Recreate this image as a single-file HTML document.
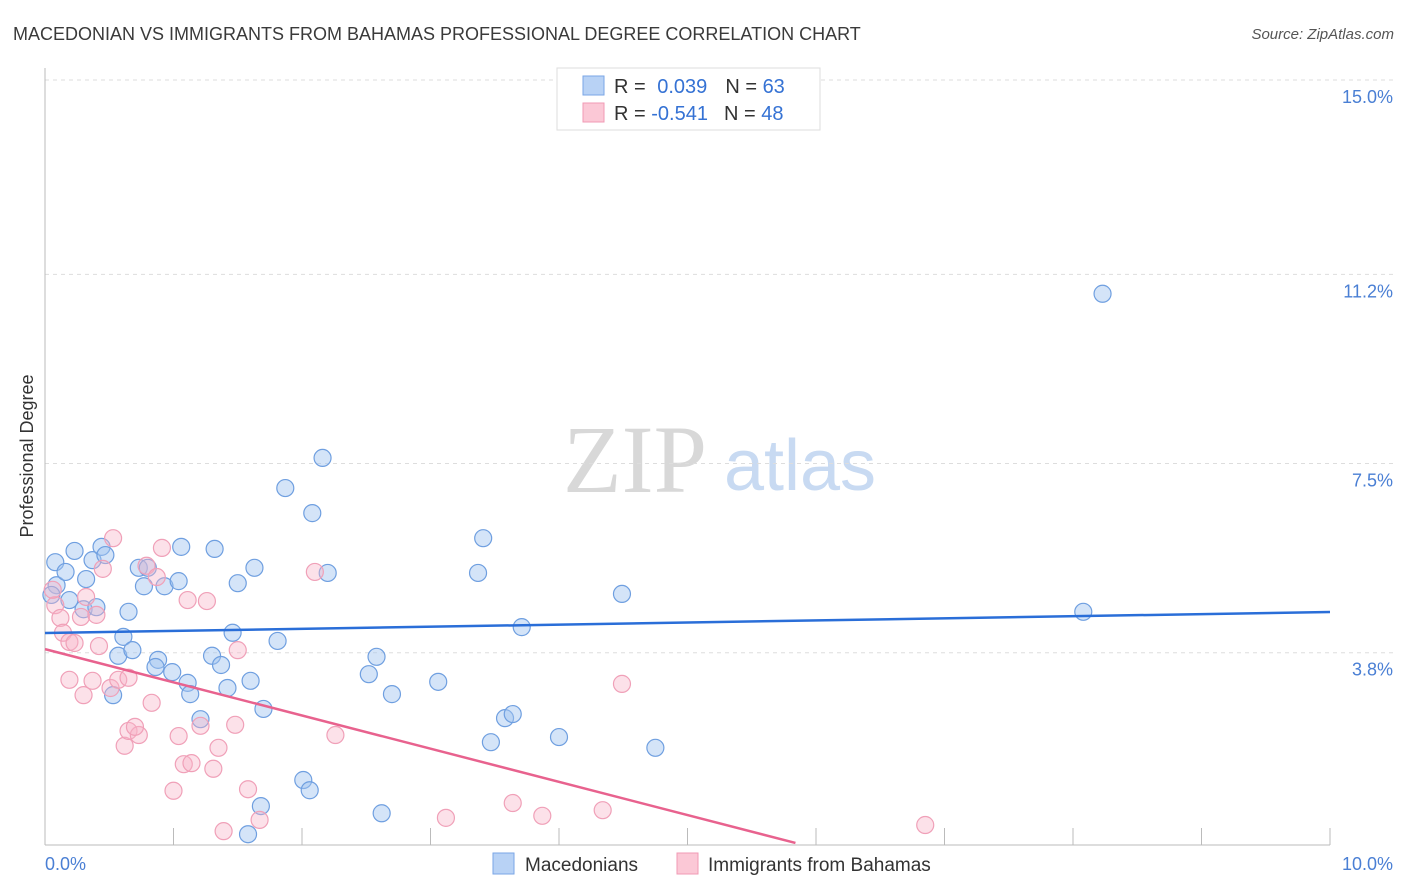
<!DOCTYPE html>
<html><head><meta charset="utf-8"><style>
body{margin:0;background:#fff;font-family:"Liberation Sans",sans-serif;}
svg{display:block}
</style></head><body>
<svg width="1406" height="892" id="chart">
<text x="13" y="40" font-size="18" fill="#3a3a3a">MACEDONIAN VS IMMIGRANTS FROM BAHAMAS PROFESSIONAL DEGREE CORRELATION CHART</text>
<text x="1394" y="39" font-size="15" fill="#555" font-style="italic" text-anchor="end">Source: ZipAtlas.com</text>
<text x="635" y="492" font-size="96" fill="#d8d8d8" font-family="Liberation Serif,serif" text-anchor="middle">ZIP</text>
<text x="800" y="490" font-size="72" fill="#c8daf2" text-anchor="middle">atlas</text>
<g id="grid"></g>
<line x1="45" y1="68" x2="45" y2="845" stroke="#bbb"/>
<line x1="45" y1="845" x2="1330" y2="845" stroke="#bbb"/>
<text transform="translate(33,456) rotate(-90)" font-size="18" fill="#333" text-anchor="middle">Professional Degree</text>
<text x="45" y="870" font-size="18" fill="#4a7fd4">0.0%</text>
<text x="1393" y="870" font-size="18" fill="#4a7fd4" text-anchor="end">10.0%</text>
<g id="pts"></g>
<g id="lines"></g>
<g>
<rect x="557" y="68" width="263" height="62" fill="#fff" stroke="#ddd"/>
<rect x="583" y="76" width="21" height="19" fill="#b8d2f5" stroke="#7aa6e6"/>
<rect x="583" y="103" width="21" height="19" fill="#fbc8d6" stroke="#f09ab4"/>
<text x="614" y="93" font-size="20" fill="#333">R = <tspan fill="#3572d4" dx="6">0.039</tspan><tspan dx="18" fill="#333">N = </tspan><tspan fill="#3572d4">63</tspan></text>
<text x="614" y="120" font-size="20" fill="#333">R = <tspan fill="#3572d4">-0.541</tspan><tspan dx="16" fill="#333">N = </tspan><tspan fill="#3572d4">48</tspan></text>
</g>
<g>
<rect x="493" y="853" width="21" height="21" fill="#b8d2f5" stroke="#7aa6e6"/>
<text x="525" y="871" font-size="19" fill="#333">Macedonians</text>
<rect x="677" y="853" width="21" height="21" fill="#fbc8d6" stroke="#f09ab4"/>
<text x="708" y="871" font-size="19" fill="#333">Immigrants from Bahamas</text>
</g>
</svg>
<script>
const yTicks=[3.8,7.5,11.2,15.0];
const yTickLabels=["3.8%","7.5%","11.2%","15.0%"];
const xTicks=[0,1,2,3,4,5,6,7,8,9,10];
const blueX=[0.08,0.09,0.16,0.23,0.32,0.37,0.19,0.30,0.40,0.44,0.47,0.65,0.73,0.80,0.77,0.93,1.04,1.06,1.32,1.50,1.63,0.61,0.57,0.68,0.53,0.88,0.86,0.99,1.11,1.13,1.30,1.37,1.42,1.46,1.60,1.70,1.81,1.21,1.87,2.08,2.16,2.20,2.52,2.58,2.70,3.06,3.37,3.41,3.58,3.64,3.47,3.71,4.00,4.49,4.75,8.08,8.23,2.01,2.06,1.68,2.62,1.58,0.05];
const blueY=[5.57,5.12,5.38,5.79,5.24,5.61,4.83,4.65,4.69,5.87,5.71,4.60,5.46,5.46,5.10,5.10,5.20,5.87,5.83,5.16,5.46,4.11,3.74,3.85,2.97,3.66,3.52,3.42,3.21,2.99,3.74,3.56,3.11,4.19,3.25,2.70,4.03,2.50,7.02,6.53,7.61,5.36,3.38,3.72,2.99,3.23,5.36,6.04,2.52,2.60,2.05,4.30,2.15,4.95,1.94,4.60,10.82,1.31,1.11,0.80,0.66,0.25,4.93];
const pinkX=[0.08,0.06,0.12,0.14,0.19,0.23,0.28,0.32,0.40,0.42,0.53,0.45,0.19,0.30,0.37,0.51,0.57,0.65,0.62,0.65,0.73,0.83,0.70,0.79,0.87,0.91,1.11,1.26,1.21,1.04,1.08,1.14,1.35,1.31,1.00,1.48,1.50,1.58,1.67,1.39,2.10,2.26,3.12,3.64,3.87,4.34,4.49,6.85];
const pinkY=[4.73,5.03,4.48,4.19,4.01,3.99,4.50,4.89,4.54,3.93,6.04,5.44,3.27,2.97,3.25,3.11,3.27,3.31,1.98,2.27,2.19,2.82,2.35,5.50,5.28,5.85,4.83,4.81,2.37,2.17,1.62,1.64,1.94,1.53,1.10,2.39,3.85,1.13,0.53,0.31,5.38,2.19,0.57,0.86,0.61,0.72,3.19,0.43];
const blueTrend=[[0,4.185],[10,4.596]];
const pinkTrend=[[0,3.87],[5.84,0.08]];
const NS='http://www.w3.org/2000/svg';
const sx=v=>45+v*128.5, sy=v=>847-v*51.13;
function mk(tag,attrs,parent){const e=document.createElementNS(NS,tag);for(const k in attrs)e.setAttribute(k,attrs[k]);parent.appendChild(e);return e;}
const grid=document.getElementById('grid');
yTicks.forEach((t,i)=>{
  const l=mk('line',{x1:45,x2:1395,y1:sy(t),y2:sy(t),stroke:'#ddd','stroke-dasharray':'4,4'},grid);
  
  
  const tx=mk('text',{x:1393,y:sy(t)+23,'font-size':18,fill:'#4a7fd4','text-anchor':'end'},grid);
  tx.textContent=yTickLabels[i];
  
  
});
xTicks.forEach(t=>{
  const l=mk('line',{x1:sx(t),x2:sx(t),y1:828,y2:845,stroke:'#bbb'},grid);
  
  
});
const pts=document.getElementById('pts');
blueX.forEach((x,i)=>{
  const c=mk('circle',{cx:sx(x),cy:sy(blueY[i]),r:8.5,fill:'rgba(160,195,240,0.45)',stroke:'#6f9fe0','stroke-width':1.2},pts);
  
  
});
pinkX.forEach((x,i)=>{
  const c=mk('circle',{cx:sx(x),cy:sy(pinkY[i]),r:8.5,fill:'rgba(248,180,200,0.4)',stroke:'#f0a0b8','stroke-width':1.2},pts);
  
  
});
const lines=document.getElementById('lines');
const bl=mk('line',{x1:sx(blueTrend[0][0]),y1:sy(blueTrend[0][1]),x2:sx(blueTrend[1][0]),y2:sy(blueTrend[1][1]),stroke:'#2a6ed8','stroke-width':2.5},lines);


const pl=mk('line',{x1:sx(pinkTrend[0][0]),y1:sy(pinkTrend[0][1]),x2:sx(pinkTrend[1][0]),y2:sy(pinkTrend[1][1]),stroke:'#e8628e','stroke-width':2.5},lines);


</script>
</body></html>
